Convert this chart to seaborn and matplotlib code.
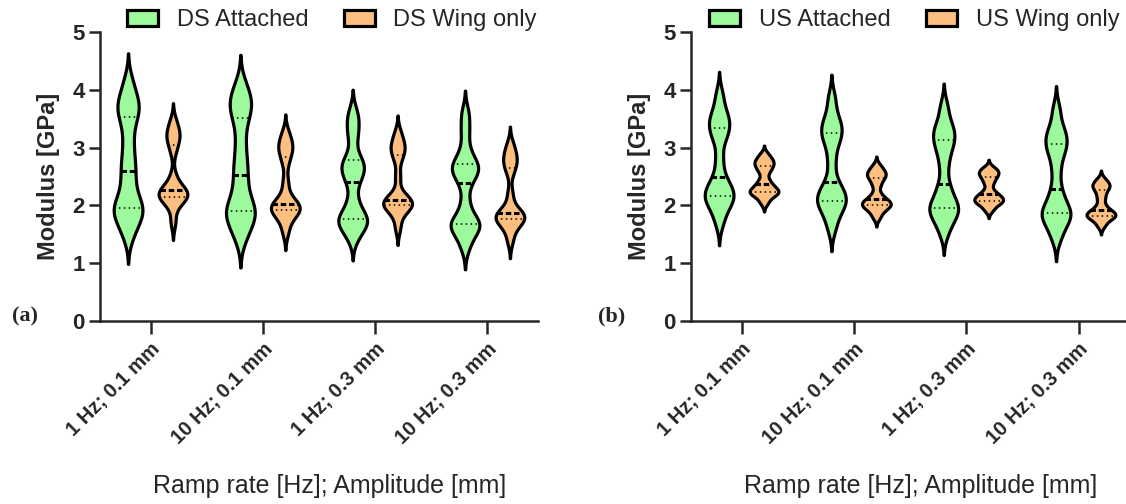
import numpy as np
import pandas as pd
import matplotlib
matplotlib.use("Agg")
import matplotlib.pyplot as plt
import seaborn as sns

conditions = ["1 Hz; 0.1 mm", "10 Hz; 0.1 mm", "1 Hz; 0.3 mm", "10 Hz; 0.3 mm"]

# modulus samples [GPa], one list per condition
ds_attached = [
    [1.50, 1.72, 1.85, 1.92, 1.98, 2.12, 2.35, 2.59, 2.80, 3.10, 3.42, 3.63, 3.72, 3.85, 4.12],
    [1.45, 1.65, 1.80, 1.87, 1.93, 2.07, 2.28, 2.53, 2.75, 3.05, 3.40, 3.64, 3.74, 3.87, 4.08],
    [1.45, 1.62, 1.70, 1.74, 1.78, 1.90, 2.10, 2.41, 2.55, 2.65, 2.72, 2.84, 3.18, 3.40, 3.60],
    [1.30, 1.52, 1.62, 1.66, 1.70, 1.78, 2.05, 2.39, 2.55, 2.63, 2.68, 2.74, 2.95, 3.28, 3.58],
]
ds_wing = [
    [1.72, 2.00, 2.10, 2.13, 2.17, 2.20, 2.24, 2.27, 2.32, 2.50, 2.95, 3.13, 3.20, 3.30, 3.45],
    [1.55, 1.75, 1.85, 1.90, 1.94, 1.98, 2.00, 2.03, 2.15, 2.40, 2.75, 2.93, 3.00, 3.10, 3.25],
    [1.62, 1.85, 1.95, 1.98, 2.02, 2.05, 2.08, 2.10, 2.20, 2.50, 2.80, 2.94, 3.00, 3.10, 3.25],
    [1.40, 1.60, 1.70, 1.74, 1.78, 1.81, 1.84, 1.87, 1.95, 2.20, 2.58, 2.72, 2.80, 2.90, 3.05],
]
us_attached = [
    [1.72, 1.95, 2.05, 2.13, 2.19, 2.25, 2.35, 2.49, 2.80, 3.15, 3.28, 3.40, 3.50, 3.62, 3.90],
    [1.62, 1.85, 1.98, 2.05, 2.11, 2.18, 2.28, 2.41, 2.75, 3.05, 3.20, 3.30, 3.40, 3.55, 3.85],
    [1.55, 1.75, 1.85, 1.93, 1.97, 2.05, 2.20, 2.37, 2.70, 2.95, 3.08, 3.20, 3.30, 3.42, 3.70],
    [1.45, 1.65, 1.76, 1.84, 1.88, 1.95, 2.10, 2.28, 2.60, 2.88, 3.00, 3.12, 3.22, 3.35, 3.65],
]
us_wing = [
    [2.05, 2.15, 2.20, 2.22, 2.24, 2.28, 2.32, 2.37, 2.45, 2.58, 2.65, 2.71, 2.75, 2.80, 2.88],
    [1.80, 1.90, 1.96, 1.99, 2.01, 2.05, 2.08, 2.11, 2.20, 2.35, 2.45, 2.51, 2.55, 2.60, 2.68],
    [1.92, 2.00, 2.05, 2.07, 2.09, 2.13, 2.16, 2.19, 2.26, 2.38, 2.46, 2.52, 2.56, 2.60, 2.65],
    [1.65, 1.74, 1.79, 1.81, 1.83, 1.86, 1.89, 1.92, 2.00, 2.12, 2.22, 2.30, 2.34, 2.38, 2.45],
]

green = "#9CFA9C"
orange = "#FDBF80"


def long_table(series):
    rows = []
    for name, groups in series.items():
        for cond, vals in zip(conditions, groups):
            for v in vals:
                rows.append((cond, name, v))
    return pd.DataFrame(rows, columns=["condition", "group", "modulus"])


df_ds = long_table({"DS Attached": ds_attached, "DS Wing only": ds_wing})
df_us = long_table({"US Attached": us_attached, "US Wing only": us_wing})

sns.set_style("ticks")
plt.rcParams["font.family"] = ["Liberation Sans", "DejaVu Sans"]

fig = plt.figure(figsize=(11.26, 5.04), dpi=100)
ax_a = fig.add_axes([0.0888, 0.3631, 0.389, 0.5734])
ax_b = fig.add_axes([0.6137, 0.3631, 0.389, 0.5734])

for ax, df, leg_x in [(ax_a, df_ds, 0.53), (ax_b, df_us, 0.51)]:
    sns.violinplot(data=df, x="condition", y="modulus", hue="group",
                   palette=[green, orange], saturation=1, inner="quart",
                   density_norm="width", bw_adjust=0.42, cut=2.4, gap=0.36,
                   linewidth=2.3, linecolor="black", ax=ax)
    # median dashed, quartiles dotted
    for i, line in enumerate(ax.lines):
        if i % 3 == 1:
            line.set_linewidth(2.2)
            line.set_dashes((1.8, 0.9))
        else:
            line.set_linewidth(1.1)
            line.set_dashes((1, 2.2))
    ax.set_ylim(0, 5)
    ax.set_yticks(range(6))
    ax.set_xlim(-0.45, 3.45)
    sns.despine(ax=ax)
    for s in ["left", "bottom"]:
        ax.spines[s].set_linewidth(1.8)
    ax.tick_params(axis="y", width=1.8, length=8, pad=3, labelsize=16)
    ax.tick_params(axis="x", width=1.8, length=9, pad=4, labelsize=14.5)
    ax.set_xticks(range(4))
    ax.set_xticklabels(conditions, rotation=45, ha="right", rotation_mode="anchor",
                       fontweight="bold")
    for t in ax.get_yticklabels():
        t.set_fontweight("bold")
    ax.set_ylabel("Modulus [GPa]", fontsize=17, fontweight="bold", labelpad=9)
    ax.set_xlabel("Ramp rate [Hz]; Amplitude [mm]", fontsize=18)
    ax.xaxis.set_label_coords(0.525, -0.53)
    sns.move_legend(ax, "center", bbox_to_anchor=(leg_x, 1.04), ncol=2, title=None,
                    frameon=False, fontsize=17, handlelength=1.3, handleheight=0.65,
                    handletextpad=0.8, columnspacing=1.5, borderaxespad=0)

fig.text(0.022, 0.373, "(a)", family="Liberation Serif", fontweight="bold",
         fontsize=16, ha="center", va="center")
fig.text(0.543, 0.373, "(b)", family="Liberation Serif", fontweight="bold",
         fontsize=16, ha="center", va="center")

fig.savefig("out.png", dpi=100)
